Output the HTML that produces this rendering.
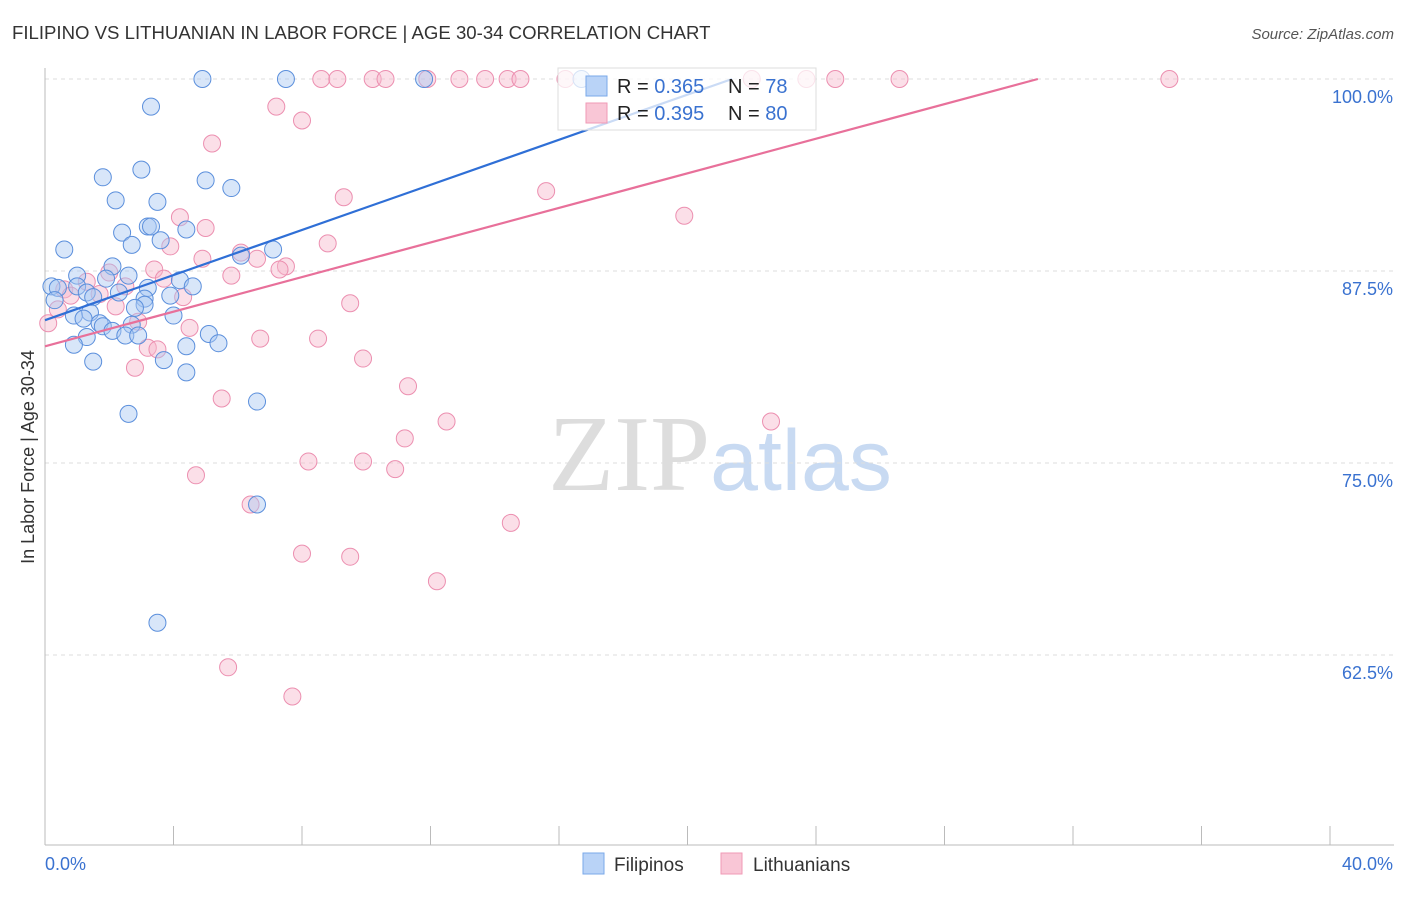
<!DOCTYPE html>
<html><head><meta charset="utf-8"><style>
body{margin:0;background:#fff;font-family:"Liberation Sans",sans-serif;}
svg text{font-family:"Liberation Sans",sans-serif;}
</style></head><body>
<svg id="chart" width="1406" height="892" xmlns="http://www.w3.org/2000/svg">
<text x="12" y="39" font-size="18.6" fill="#333">FILIPINO VS LITHUANIAN IN LABOR FORCE | AGE 30-34 CORRELATION CHART</text>
<text x="1394" y="39" font-size="15" fill="#555" text-anchor="end" font-style="italic">Source: ZipAtlas.com</text>
<text x="720" y="490" font-size="108" text-anchor="middle"><tspan font-family="Liberation Serif,serif" fill="#ddd">ZIP</tspan><tspan fill="#c8daf2" font-size="86">atlas</tspan></text>
<g id="grid"></g>
<g id="axes"></g>
<text transform="translate(34,457) rotate(-90)" font-size="18" fill="#333" text-anchor="middle">In Labor Force | Age 30-34</text>
<g id="pts"></g>
<g id="lines"></g>
<g>
<rect x="558" y="68" width="258" height="62" fill="#fff" fill-opacity="0.75" stroke="#ddd"/>
<rect x="586" y="76" width="21" height="20" fill="#b9d3f7" stroke="#7aa8ea"/>
<rect x="586" y="103" width="21" height="20" fill="#f9c6d6" stroke="#f09ab6"/>
<text x="617" y="93" font-size="20" fill="#222">R = <tspan fill="#3a72d0">0.365</tspan></text>
<text x="728" y="93" font-size="20" fill="#222">N = <tspan fill="#3a72d0">78</tspan></text>
<text x="617" y="120" font-size="20" fill="#222">R = <tspan fill="#3a72d0">0.395</tspan></text>
<text x="728" y="120" font-size="20" fill="#222">N = <tspan fill="#3a72d0">80</tspan></text>
</g>
<g>
<rect x="583" y="853" width="21" height="21" fill="#b9d3f7" stroke="#7aa8ea"/>
<text x="614" y="871" font-size="19" fill="#333">Filipinos</text>
<rect x="721" y="853" width="21" height="21" fill="#f9c6d6" stroke="#f09ab6"/>
<text x="753" y="871" font-size="19" fill="#333">Lithuanians</text>
</g>
</svg>
<script>
const blueX=[4.9,7.5,11.8,3.3,3.0,1.8,5.0,5.8,2.2,3.5,3.2,3.3,2.4,4.4,3.6,0.6,2.7,7.1,6.1,2.1,2.6,1.0,1.9,4.2,4.6,3.2,0.2,0.4,1.0,1.3,2.3,1.5,0.3,3.1,3.9,3.1,2.8,1.4,0.9,1.2,1.7,1.8,2.7,4.0,2.1,2.5,2.9,1.3,5.1,5.4,0.9,4.4,3.7,1.5,4.4,6.6,2.6,6.6,3.5,16.7];
const blueY=[100,100,100,98.2,94.1,93.6,93.4,92.9,92.1,92.0,90.4,90.4,90.0,90.2,89.5,88.9,89.2,88.9,88.5,87.8,87.2,87.2,87.0,86.9,86.5,86.4,86.5,86.4,86.5,86.1,86.1,85.8,85.6,85.7,85.9,85.3,85.1,84.8,84.6,84.4,84.1,83.9,84.0,84.6,83.6,83.3,83.3,83.2,83.4,82.8,82.7,82.6,81.7,81.6,80.9,79.0,78.2,72.3,64.6,100];
const pinkX=[8.6,9.1,10.2,10.6,11.9,12.9,13.7,14.4,14.8,16.2,22.0,23.7,24.6,26.6,35.0,7.2,8.0,5.2,9.3,15.6,19.9,4.2,5.0,8.8,3.9,6.1,4.9,6.6,7.5,7.3,3.4,5.8,2.0,3.7,1.3,2.5,1.7,4.3,9.5,2.2,0.1,2.9,4.5,6.7,8.5,3.2,3.5,9.9,2.8,11.3,5.5,12.5,22.6,11.2,8.2,9.9,10.9,4.7,6.4,14.5,8.0,9.5,12.2,5.7,7.7,0.6,0.8,0.4];
const pinkY=[100,100,100,100,100,100,100,100,100,100,100,100,100,100,100,98.2,97.3,95.8,92.3,92.7,91.1,91.0,90.3,89.3,89.1,88.7,88.3,88.3,87.8,87.6,87.6,87.2,87.4,87.0,86.8,86.5,86.0,85.8,85.4,85.2,84.1,84.2,83.8,83.1,83.1,82.5,82.4,81.8,81.2,80.0,79.2,77.7,77.7,76.6,75.1,75.1,74.6,74.2,72.3,71.1,69.1,68.9,67.3,61.7,59.8,86.3,85.9,85.0];
const blueTrend=[84.3,0.734];
const pinkTrend=[82.6,0.563];
const yTicks=[100,87.5,75,62.5];
const yTickLabels=["100.0%","87.5%","75.0%","62.5%"];
const xTickVals=[0,4,8,12,16,20,24,28,32,36,40];
const NS="http://www.w3.org/2000/svg";
const xs=v=>45+v*32.125;
const ys=v=>79+(100-v)*15.36;
function mk(tag,attrs,parent){const e=document.createElementNS(NS,tag);for(const k in attrs)e.setAttribute(k,attrs[k]);parent.appendChild(e);return e;}
const grid=document.getElementById('grid'),axes=document.getElementById('axes'),pts=document.getElementById('pts'),lines=document.getElementById('lines');
yTicks.forEach((t,i)=>{
 const l=mk('line',{x1:45,x2:1394,y1:ys(t),y2:ys(t),stroke:'#ddd','stroke-dasharray':'4,4'},grid);
 
 
 const tx=mk('text',{x:1393,y:ys(t)+24,'font-size':18,fill:'#3a72d0','text-anchor':'end'},axes);
 tx.textContent=yTickLabels[i];
 
 
});
const xa=mk('line',{x1:45,x2:1394,y1:845,y2:845,stroke:'#bbb'},axes);


const ya=mk('line',{x1:45,x2:45,y1:68,y2:845,stroke:'#bbb'},axes);


xTickVals.forEach(v=>{const t=mk('line',{x1:xs(v),x2:xs(v),y1:826,y2:845,stroke:'#bbb'},axes);
 
 });
const xl0=mk('text',{x:45,y:870,'font-size':18,fill:'#3a72d0'},axes);xl0.textContent=xTickVals[0].toFixed(1)+'%';


const xl1=mk('text',{x:1393,y:870,'font-size':18,fill:'#3a72d0','text-anchor':'end'},axes);xl1.textContent=xTickVals[xTickVals.length-1].toFixed(1)+'%';


function dots(X,Y,fill,stroke,name){X.forEach((x,i)=>{const c=mk('circle',{cx:xs(x),cy:ys(Y[i]),r:8.5,fill:fill,'fill-opacity':0.45,stroke:stroke,'stroke-width':1},pts);
 
 });}
dots(pinkX,pinkY,'#f7b8cc','#ec8fb0','lithuanian-point');
dots(blueX,blueY,'#a9c8f2','#5b8fdc','filipino-point');
function trend(tr,color,name){const xEnd=(100-tr[0])/tr[1];const l=mk('line',{x1:xs(0),y1:ys(tr[0]),x2:xs(xEnd),y2:ys(100),stroke:color,'stroke-width':2.2},lines);
 
 }
trend(blueTrend,'#2f6fd6','filipino-trend-line');
trend(pinkTrend,'#e8709a','lithuanian-trend-line');
</script>
</body></html>
